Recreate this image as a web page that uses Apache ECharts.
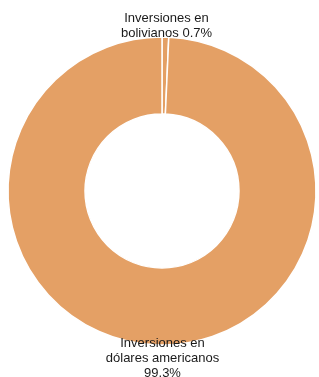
<!DOCTYPE html>
<html>
<head>
<meta charset="utf-8">
<script src="https://cdn.jsdelivr.net/npm/echarts@6/dist/echarts.min.js"></script>
<style>
  html, body { margin: 0; padding: 0; background: #fff; }
  #chart { width: 319px; height: 377px; }
</style>
</head>
<body>
<div id="chart"></div>
<script>
var names = ['Inversiones en\nbolivianos', 'Inversiones en\ndólares americanos'];
var values = [0.7, 99.3];
var labelText = ['Inversiones en\nbolivianos 0.7%', 'Inversiones en\ndólares americanos\n99.3%'];

var cx = 162, cy = 191, rOuter = 154, rInner = 77;

var myChart = echarts.init(document.getElementById('chart'));

var pieData = [];
for (var i = 0; i < values.length; i++) {
    pieData.push({ name: names[i], value: values[i], label: { formatter: labelText[i] } });
}

var option = {
    animation: false,
    series: [{
        type: 'pie',
        center: [cx, cy],
        radius: [rInner, rOuter],
        startAngle: 90,
        clockwise: true,
        data: pieData,
        itemStyle: {
            color: '#e4a065',
            borderColor: '#fff',
            borderWidth: 1.5
        },
        label: {
            show: true,
            position: 'outside',
            color: '#1a1a1a',
            fontFamily: 'Liberation Sans, Arial, sans-serif',
            fontSize: 13,
            lineHeight: 15,
            overflow: 'none',
            width: 200
        },
        labelLine: { show: false },
        // labels sit centred just above / below the ring
        labelLayout: function (p) {
            if (p.dataIndex === 0) {
                return { x: cx + 4.5, y: cy - rOuter + 3.5, align: 'center', verticalAlign: 'bottom' };
            }
            return { x: cx + 0.5, y: cy + rOuter - 9, align: 'center', verticalAlign: 'top' };
        }
    }]
};

myChart.setOption(option);
</script>
</body>
</html>
